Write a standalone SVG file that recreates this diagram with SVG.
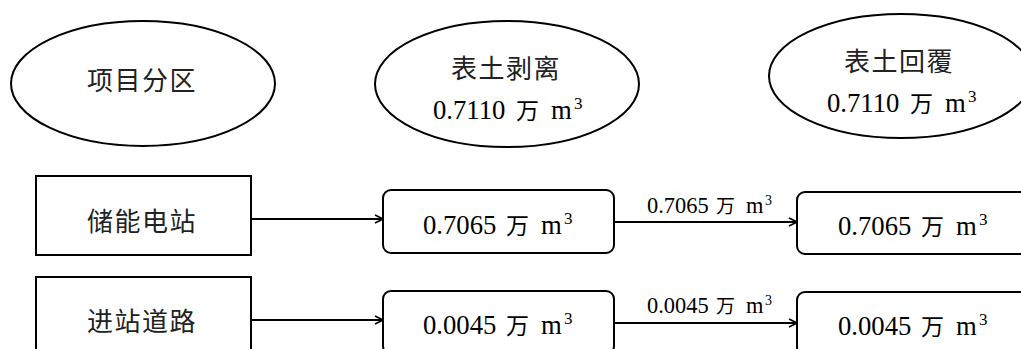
<svg xmlns="http://www.w3.org/2000/svg" width="1021" height="349" viewBox="0 0 1021 349">
<style>
.shape{fill:#fff;stroke:#000;stroke-width:2}
.cn{font-family:"Noto Sans CJK SC","Noto Sans CJK JP",sans-serif;font-size:26px;letter-spacing:1.5px;fill:#222}
.num{font-family:"Liberation Serif","Noto Sans CJK SC",serif;font-size:26.7px;fill:#000}
.wan{font-family:"Noto Sans CJK SC",sans-serif;font-size:23px}
.lbl{font-family:"Liberation Serif","Noto Sans CJK SC",serif;font-size:22.4px;fill:#000}
.lwan{font-family:"Noto Sans CJK SC",sans-serif;font-size:19px}
.conn{stroke:#000;stroke-width:1.8;fill:none}
</style>
<defs>
<marker id="arr" markerUnits="userSpaceOnUse" markerWidth="10" markerHeight="10" refX="9" refY="5" orient="auto">
<path d="M1,1 L9,5 L1,9" fill="none" stroke="#000" stroke-width="1.6"/>
</marker>
</defs>
<rect width="1021" height="349" fill="#fff"/>
<g id="head-partition">
<ellipse class="shape" cx="143" cy="83.5" rx="132" ry="62.5"/>
<text class="cn" x="87" y="90">项目分区</text>
</g>
<g id="head-strip">
<ellipse class="shape" cx="507" cy="84" rx="132" ry="63"/>
<text class="cn" x="451" y="78">表土剥离</text>
<text class="num" y="119"><tspan x="433">0.7110</tspan><tspan class="wan" x="516">万</tspan><tspan x="551">m</tspan><tspan x="574" dy="-10" font-size="17">3</tspan></text>
</g>
<g id="head-cover">
<ellipse class="shape" cx="901" cy="76" rx="132" ry="62"/>
<text class="cn" x="844" y="71">表土回覆</text>
<text class="num" y="112"><tspan x="827">0.7110</tspan><tspan class="wan" x="910">万</tspan><tspan x="945">m</tspan><tspan x="968" dy="-10" font-size="17">3</tspan></text>
</g>
<g id="zone-station">
<rect class="shape" x="36" y="176" width="215" height="79"/>
<text class="cn" x="87" y="231">储能电站</text>
</g>
<g id="zone-road">
<rect class="shape" x="36" y="277" width="215" height="79"/>
<text class="cn" x="87" y="331">进站道路</text>
</g>
<g id="strip-station">
<rect class="shape" x="383" y="190" width="231" height="63" rx="8"/>
<text class="num" y="233.5"><tspan x="423">0.7065</tspan><tspan class="wan" x="506">万</tspan><tspan x="541">m</tspan><tspan x="564" dy="-10" font-size="17">3</tspan></text>
</g>
<g id="strip-road">
<rect class="shape" x="383" y="291" width="231" height="63" rx="8"/>
<text class="num" y="334"><tspan x="423">0.0045</tspan><tspan class="wan" x="506">万</tspan><tspan x="541">m</tspan><tspan x="564" dy="-10" font-size="17">3</tspan></text>
</g>
<g id="cover-station">
<rect class="shape" x="797" y="192" width="231" height="62" rx="8"/>
<text class="num" y="235"><tspan x="838">0.7065</tspan><tspan class="wan" x="921">万</tspan><tspan x="956">m</tspan><tspan x="979" dy="-10" font-size="17">3</tspan></text>
</g>
<g id="cover-road">
<rect class="shape" x="797" y="292" width="231" height="63" rx="8"/>
<text class="num" y="335"><tspan x="838">0.0045</tspan><tspan class="wan" x="921">万</tspan><tspan x="956">m</tspan><tspan x="979" dy="-10" font-size="17">3</tspan></text>
</g>
<g id="connectors">
<line class="conn" x1="251" y1="219" x2="383" y2="219" marker-end="url(#arr)"/>
<line class="conn" x1="614" y1="222" x2="797" y2="222" marker-end="url(#arr)"/>
<line class="conn" x1="251" y1="320" x2="383" y2="320" marker-end="url(#arr)"/>
<line class="conn" x1="614" y1="323" x2="797" y2="323" marker-end="url(#arr)"/>
<text class="lbl" y="213.3"><tspan x="647">0.7065</tspan><tspan class="lwan" x="716">万</tspan><tspan x="746">m</tspan><tspan x="765" dy="-8.5" font-size="14">3</tspan></text>
<text class="lbl" y="313.3"><tspan x="647">0.0045</tspan><tspan class="lwan" x="716">万</tspan><tspan x="746">m</tspan><tspan x="765" dy="-8.5" font-size="14">3</tspan></text>
</g>
</svg>
